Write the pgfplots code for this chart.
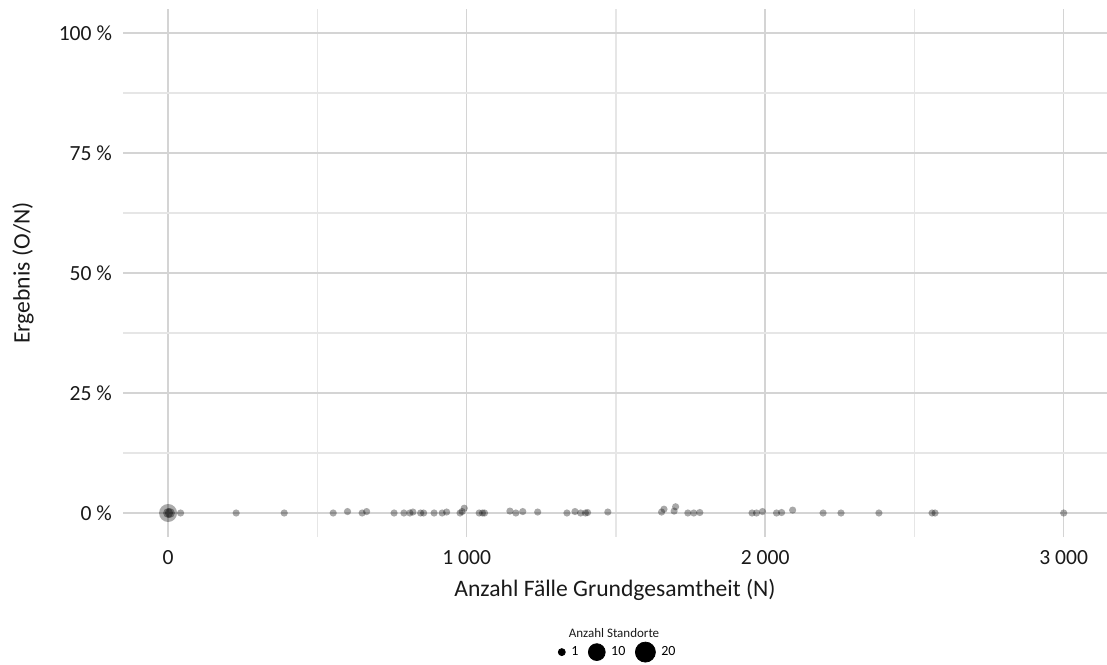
\documentclass[border=0pt]{standalone}
\usepackage{fontspec}
\setmainfont{Carlito}
\usepackage{pgfplots}
\pgfplotsset{compat=1.18}
\definecolor{majgrid}{HTML}{D4D4D4}
\definecolor{mingrid}{HTML}{E6E6E6}
\definecolor{txt}{HTML}{1A1A1A}
\begin{document}
\begin{tikzpicture}
\useasboundingbox (0,0) rectangle (553.5pt,332pt);
\begin{axis}[
  at={(61.5pt,63.5pt)}, anchor=south west,
  scale only axis, width=492pt, height=264pt,
  xmin=-151, xmax=3145, ymin=-5, ymax=105,
  clip=false,
  axis line style={draw=none},
  major tick length=0pt, minor tick length=0pt,
  xtick={0,1000,2000,3000},
  xticklabels={0,1\ 000,2\ 000,3\ 000},
  minor xtick={500,1500,2500},
  ytick={0,25,50,75,100},
  yticklabels={0 \%,25 \%,50 \%,75 \%,100 \%},
  minor ytick={12.5,37.5,62.5,87.5},
  grid=both,
  major grid style={majgrid, line width=0.75pt},
  minor grid style={mingrid, line width=0.6pt},
  ticklabel style={font=\fontsize{10.8}{12}\selectfont, text=txt},
  yticklabel style={xshift=-2pt},
  xticklabel style={yshift=-3pt},
  xlabel={Anzahl Fälle Grundgesamtheit (N)},
  ylabel={Ergebnis (O/N)},
  label style={font=\fontsize{11.8}{13}\selectfont, text=txt},
  xlabel style={at={(axis description cs:0.5,0)}, anchor=center, yshift=-26.5pt},
  every axis y label/.append style={at={(axis description cs:-0.1016,0.5)}, anchor=center},
  legend style={at={(axis description cs:0.504,-0.218)}, anchor=center, draw=none, fill=none,
    legend columns=3, font=\fontsize{7}{8}\selectfont,
    /tikz/every odd column/.append style={column sep=1pt},
    /tikz/every even column/.append style={column sep=3pt}},
  legend cell align=left,
]
\addlegendimage{only marks, mark=*, mark size=1.75pt, black}
\addlegendentry{1}
\addlegendimage{only marks, mark=*, mark size=4.2pt, black}
\addlegendentry{10}
\addlegendimage{only marks, mark=*, mark size=5pt, black}
\addlegendentry{20}
% large point at 0
\addplot[forget plot, only marks, mark=*, mark size=4.5pt, draw=none,
  mark options={draw opacity=0, fill=black, fill opacity=0.33}] coordinates {(0,0)};
\addplot[forget plot, only marks, mark=*, mark size=2.5pt, draw=none,
  mark options={draw opacity=0, fill=black, fill opacity=0.38}] coordinates {(0,0) (6,0)};
% single-site points
\addplot[forget plot, only marks, mark=*, mark size=1.8pt, draw=none,
  mark options={draw opacity=0, fill=black, fill opacity=0.34}] coordinates {
(42,0) (228,0) (389,0) (553,0) (601,0.3) (650,0) (665,0.3) (757,0) (790,0)
(810,0) (820,0.2) (846,0) (856,0) (891,0) (918,0) (933,0.2) (978,0) (985,0.3)
(992,1.0) (1042,0) (1053,0) (1060,0) (1145,0.4) (1165,0) (1188,0.3) (1238,0.2)
(1336,0) (1363,0.3) (1382,0) (1398,0) (1405,0.1) (1473,0.2) (1653,0.2) (1661,0.8)
(1695,0.4) (1700,1.3) (1741,0) (1761,0) (1781,0.1) (1956,0) (1971,0) (1991,0.3)
(2038,0) (2055,0.1) (2092,0.6) (2194,0) (2254,0) (2381,0) (2559,0) (2569,0) (3000,0)
};
\node[font=\fontsize{6.5}{7}\selectfont, text=txt] at (axis description cs:0.499,-0.182) {Anzahl Standorte};
\end{axis}
\end{tikzpicture}
\end{document}
